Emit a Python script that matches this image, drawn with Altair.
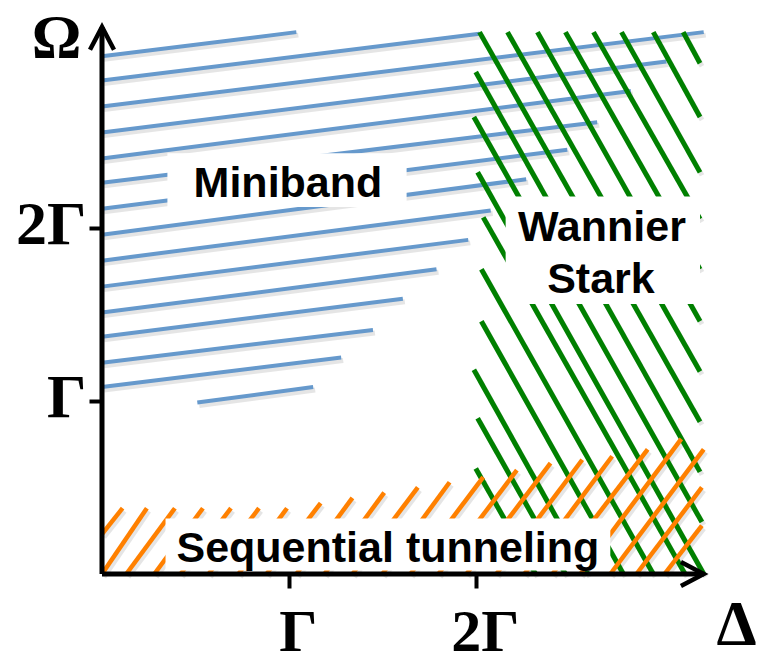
import altair as alt
import pandas as pd

# ---- data (units of Gamma) ----
BLUE_X0 = [0, 0, 0, 0, 0, 0, 0, 0, 0, 0, 0, 0, 0, 0, 0.51]
BLUE_Y0 = [2.99, 2.85, 2.70, 2.55, 2.40, 2.26, 2.11, 1.96, 1.81, 1.66, 1.51, 1.37, 1.22, 1.08, 0.99]
BLUE_X1 = [1.04, 2.02, 3.22, 3.02, 2.83, 2.65, 2.49, 2.27, 2.08, 1.96, 1.79, 1.61, 1.45, 1.28, 1.13]
BLUE_Y1 = [3.13, 3.12, 3.13, 2.96, 2.79, 2.61, 2.45, 2.28, 2.10, 1.93, 1.76, 1.59, 1.41, 1.25, 1.08]

GREEN_X0 = [2.02, 2.17, 2.33, 2.48, 2.63, 2.78, 2.95, 3.11, 2.00, 1.99, 2.01, 2.04, 2.03, 2.03, 1.99, 2.01, 2.00]
GREEN_Y0 = [3.13, 3.13, 3.13, 3.13, 3.13, 3.13, 3.13, 3.13, 2.90, 2.64, 2.32, 2.06, 1.76, 1.46, 1.18, 0.90, 0.61]
GREEN_X1 = [3.20, 3.20, 3.20, 3.20, 3.20, 3.20, 3.20, 3.20, 3.20, 3.21, 3.22, 3.12, 2.95, 2.79, 2.60, 2.48, 2.32]
GREEN_Y1 = [0.88, 1.17, 1.46, 1.76, 2.05, 2.32, 2.64, 2.95, 0.59, 0.30, 0.00, 0.00, 0.00, 0.00, 0.00, 0.00, 0.00]

ORANGE_X0 = [0.00, 0.00, 0.13, 0.28, 0.42, 0.57, 0.73, 0.88, 1.04, 1.19, 1.34, 1.50, 1.65, 1.80, 1.95, 2.11, 2.26, 2.41, 2.56, 2.72, 2.86, 3.01]
ORANGE_Y0 = [0.23, 0, 0, 0, 0, 0, 0, 0, 0, 0, 0, 0, 0, 0, 0, 0, 0, 0, 0, 0, 0, 0]
ORANGE_X1 = [0.11, 0.24, 0.39, 0.54, 0.69, 0.84, 0.99, 1.17, 1.34, 1.51, 1.69, 1.86, 2.04, 2.22, 2.40, 2.57, 2.73, 2.92, 3.10, 3.22, 3.21, 3.21]
ORANGE_Y1 = [0.38, 0.38, 0.38, 0.38, 0.38, 0.38, 0.38, 0.41, 0.44, 0.47, 0.50, 0.53, 0.56, 0.60, 0.64, 0.66, 0.68, 0.72, 0.78, 0.72, 0.50, 0.28]

AXIS_X1 = [3.22, 0.0]
AXIS_Y1 = [0.0, 3.16]
ARROW_ANGLE = [90, 0]

BOX_NAMES = ["Miniband", "Wannier Stark", "Sequential tunneling"]
BOX_X0 = [0.35, 2.16, 0.34]
BOX_X1 = [1.63, 3.20, 2.72]
BOX_Y0 = [2.12, 1.56, 0.02]
BOX_Y1 = [2.43, 2.18, 0.32]

LABEL_TEXT = ["Miniband", "Wannier", "Stark", "Sequential tunneling"]
LABEL_X = [0.995, 2.675, 2.67, 1.53]
LABEL_Y = [2.25, 2.00, 1.70, 0.147]

TICK_VALUES = [1, 2]

# ---- scales / axes ----
xs = alt.Scale(domain=[0, 3.2], nice=False, zero=False)
ys = alt.Scale(domain=[0, 3.2], nice=False, zero=False)
SERIF = "Liberation Serif"
xaxis = alt.Axis(values=TICK_VALUES, labelExpr="datum.value == 1 ? 'Γ' : '2Γ'",
                 domain=False, grid=False, tickSize=14, tickWidth=4, tickColor="black",
                 labelFont=SERIF, labelFontSize=60, labelFontWeight="bold", labelColor="black",
                 labelPadding=15, labelOffset=9, labelFlush=False,
                 title="Δ", titleFont=SERIF, titleFontSize=64, titleFontWeight="bold",
                 titleColor="black", titleX=634, titleY=70, titleAlign="center",
                 titleBaseline="alphabetic", titleAngle=0)
yaxis = alt.Axis(values=TICK_VALUES, labelExpr="datum.value == 1 ? 'Γ' : '2Γ'",
                 domain=False, grid=False, tickSize=13, tickWidth=4, tickColor="black",
                 labelFont=SERIF, labelFontSize=62, labelFontWeight="bold", labelColor="black",
                 labelPadding=3, labelOffset=-3, labelBaseline="middle", labelFlush=False,
                 title="Ω", titleFont=SERIF, titleFontSize=62, titleFontWeight="bold",
                 titleColor="black", titleX=-46, titleY=36, titleAlign="center",
                 titleBaseline="alphabetic", titleAngle=0)


def X(f):
    return alt.X(f, type="quantitative", scale=xs, axis=xaxis)


def Y(f):
    return alt.Y(f, type="quantitative", scale=ys, axis=yaxis)


def seg_df(x0, y0, x1, y1):
    return pd.DataFrame({"x0": x0, "y0": y0, "x1": x1, "y1": y1})


blue = seg_df(BLUE_X0, BLUE_Y0, BLUE_X1, BLUE_Y1)
green = seg_df(GREEN_X0, GREEN_Y0, GREEN_X1, GREEN_Y1)
orange = seg_df(ORANGE_X0, ORANGE_Y0, ORANGE_X1, ORANGE_Y1)
allsegs = pd.concat([blue, green, orange], ignore_index=True)


def segs(df, color, width, **kw):
    return alt.Chart(df).mark_rule(color=color, strokeWidth=width, **kw).encode(
        x=X("x0"), y=Y("y0"), x2="x1", y2="y1")


shadow = segs(allsegs, "#000000", 5, opacity=0.1, xOffset=2, x2Offset=2, yOffset=3, y2Offset=3)
blue_l = segs(blue, "#6699cc", 4)
green_l = segs(green, "#008000", 5)
orange_l = segs(orange, "#ff8000", 4.5)

boxes = alt.Chart(pd.DataFrame({"name": BOX_NAMES, "x0": BOX_X0, "x1": BOX_X1,
                                "y0": BOX_Y0, "y1": BOX_Y1})).mark_rect(
    color="white").encode(x=X("x0"), x2="x1", y=Y("y0"), y2="y1")

labels = alt.Chart(pd.DataFrame({"t": LABEL_TEXT, "x": LABEL_X, "y": LABEL_Y})).mark_text(
    font="Liberation Sans", fontSize=43, fontWeight="bold", color="black",
    align="center", baseline="middle").encode(x=X("x"), y=Y("y"), text="t:N")

axes_df = pd.DataFrame({"x0": [0, 0], "y0": [0, 0], "x1": AXIS_X1, "y1": AXIS_Y1, "ang": ARROW_ANGLE})
axis_lines = alt.Chart(axes_df).mark_rule(color="black", strokeWidth=5).encode(
    x=X("x0"), y=Y("y0"), x2="x1", y2="y1")
arrows = alt.Chart(axes_df).mark_point(
    shape="M -1 1.9 L 0 0 L 1 1.9", filled=False, color="black", strokeWidth=4.5,
    size=576, opacity=1, strokeJoin="miter").encode(
    x=X("x1"), y=Y("y1"), angle=alt.Angle("ang:Q", scale=None))

chart = alt.layer(shadow, blue_l, green_l, orange_l, boxes, labels, axis_lines, arrows).properties(
    width=598, height=554,
    autosize=alt.AutoSizeParams(type="none"),
    padding={"left": 94, "top": 12, "right": 61, "bottom": 88},
).configure_view(stroke=None)

chart.save("out.html", embed_options={"renderer": "svg", "actions": False})
